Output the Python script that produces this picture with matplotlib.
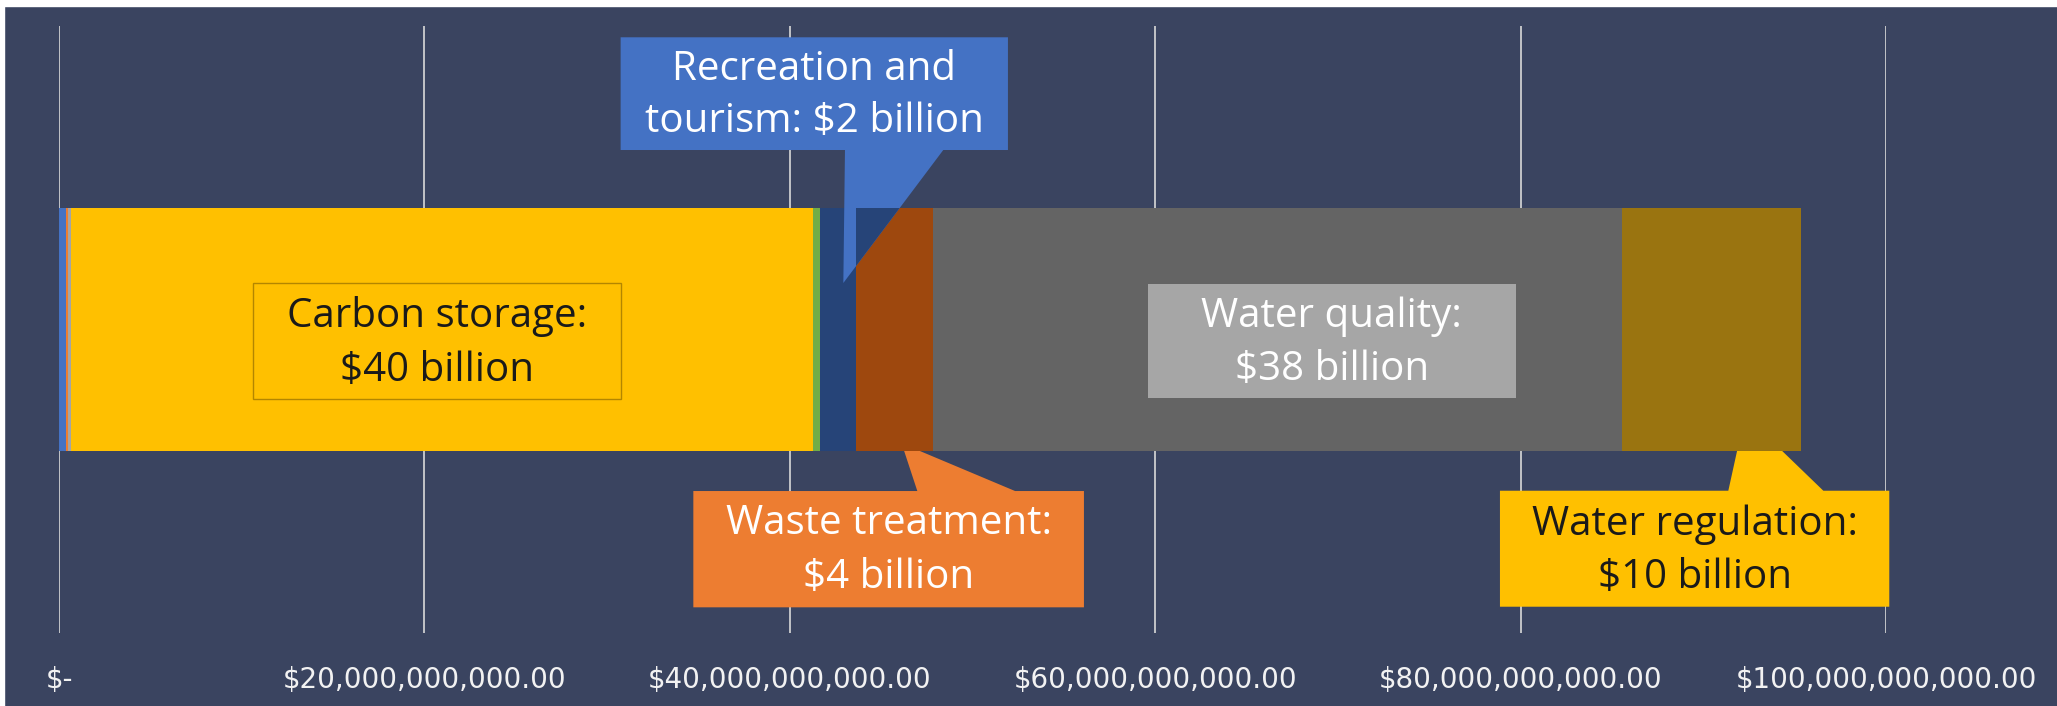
import matplotlib.pyplot as plt
from matplotlib.patches import Polygon, Rectangle
from matplotlib.ticker import FuncFormatter

plt.rcParams['font.family'] = ['Open Sans', 'DejaVu Sans']

# stacked value of each ecosystem service, in billions of dollars
services = ['Other 1', 'Other 2', 'Other 3', 'Carbon storage', 'Other 4',
            'Recreation and tourism', 'Waste treatment', 'Water quality',
            'Water regulation']
values_bn = [0.37, 0.14, 0.15, 40.6, 0.38, 2.0, 4.2, 37.7, 9.8]
colors = ['#4472c4', '#ed7d31', '#a5a5a5', '#ffc000', '#70ad47',
          '#264478', '#9e480e', '#646464', '#9a7410']
xticks_bn = [0, 20, 40, 60, 80, 100]

bg = '#3a4460'
W, H = 2057, 706
fig = plt.figure(figsize=(W / 100, H / 100), dpi=100, facecolor=bg)
# thin white border strip at top / left of the screenshot
fig.patches.append(Rectangle((0, 1 - 6 / H), 1, 6 / H, transform=fig.transFigure,
                             color='white', zorder=10))
fig.patches.append(Rectangle((0, 0), 4 / W, 1, transform=fig.transFigure,
                             color='white', zorder=10))

ax = fig.add_axes([59 / W, 73 / H, 1827 / W, 607 / H])
ax.set_facecolor('none')

vals = [v * 1e9 for v in values_bn]
lefts = [sum(vals[:i]) for i in range(len(vals))]
bars = ax.barh(0, vals, left=lefts, height=0.4, color=colors, zorder=2)

ax.set_xlim(0, 100e9)
ax.set_ylim(-0.5, 0.5)
ax.set_xticks([t * 1e9 for t in xticks_bn])
ax.xaxis.set_major_formatter(FuncFormatter(lambda v, p: '$-' if v == 0 else f'${v:,.2f}'))
ax.set_yticks([])
ax.tick_params(axis='x', length=0, pad=24, labelsize=20, labelcolor='#f2f2f2')
for lb in ax.get_xticklabels():
    lb.set_family('DejaVu Sans')
ax.grid(axis='x', color='#d9d9d9', linewidth=1.2)
ax.set_axisbelow(True)
for s in ax.spines.values():
    s.set_visible(False)

B = 1e9


def callout(x0, x1, y_far, y_edge, pb0, pb1, tip, fc, z):
    verts = [(x0 * B, y_far), (x1 * B, y_far), (x1 * B, y_edge), (pb1 * B, y_edge),
             (tip[0] * B, tip[1]), (pb0 * B, y_edge), (x0 * B, y_edge)]
    p = Polygon(verts, closed=True, fc=fc, ec='none', zorder=z, clip_on=False)
    ax.add_patch(p)
    return verts


def two_lines(x, y1, y2, l1, l2, c):
    # small nudge: va='center' sits a little above the visual middle of the caps
    ax.text(x * B, y1 - 0.008, l1, ha='center', va='center', fontsize=29, color=c, zorder=6)
    ax.text(x * B, y2 - 0.008, l2, ha='center', va='center', fontsize=29, color=c, zorder=6)


# recreation callout (above the bar, pointer down)
v = callout(30.74, 51.94, 0.4814, 0.2957, 43.02, 48.40, (42.93, 0.0766), '#4472c4', 4)
shade = Polygon(v, closed=True, fc='#264478', ec='none', zorder=4.1)
ax.add_patch(shade)
shade.set_clip_path(bars[6])
two_lines(41.34, 0.4367, 0.3500, 'Recreation and', 'tourism: $2 billion', 'white')

# waste treatment callout (below the bar, pointer up)
callout(34.72, 56.10, -0.4577, -0.2661, 46.98, 52.33, (46.12, -0.1875), '#ed7d31', 1.5)
two_lines(45.41, -0.3122, -0.4007, 'Waste treatment:', '$4 billion', 'white')

# water regulation callout
callout(78.87, 100.18, -0.4567, -0.2656, 91.37, 96.57, (92.28, -0.1409), '#ffc000', 1.5)
two_lines(89.53, -0.3138, -0.4016, 'Water regulation:', '$10 billion', '#1a1a1a')

# boxed labels on the bar
ax.add_patch(Rectangle((10.6 * B, -0.115), 20.16 * B, 0.1911, fc='#ffc000',
                       ec='#b38600', lw=1, zorder=3))
two_lines(20.68, 0.0293, -0.0601, 'Carbon storage:', '$40 billion', '#1a1a1a')

ax.add_patch(Rectangle((59.6 * B, -0.1133), 20.13 * B, 0.1883, fc='#a6a6a6',
                       ec='none', zorder=3))
two_lines(69.67, 0.0293, -0.0585, 'Water quality:', '$38 billion', 'white')

fig.savefig('out.png', dpi=100, facecolor=bg)
